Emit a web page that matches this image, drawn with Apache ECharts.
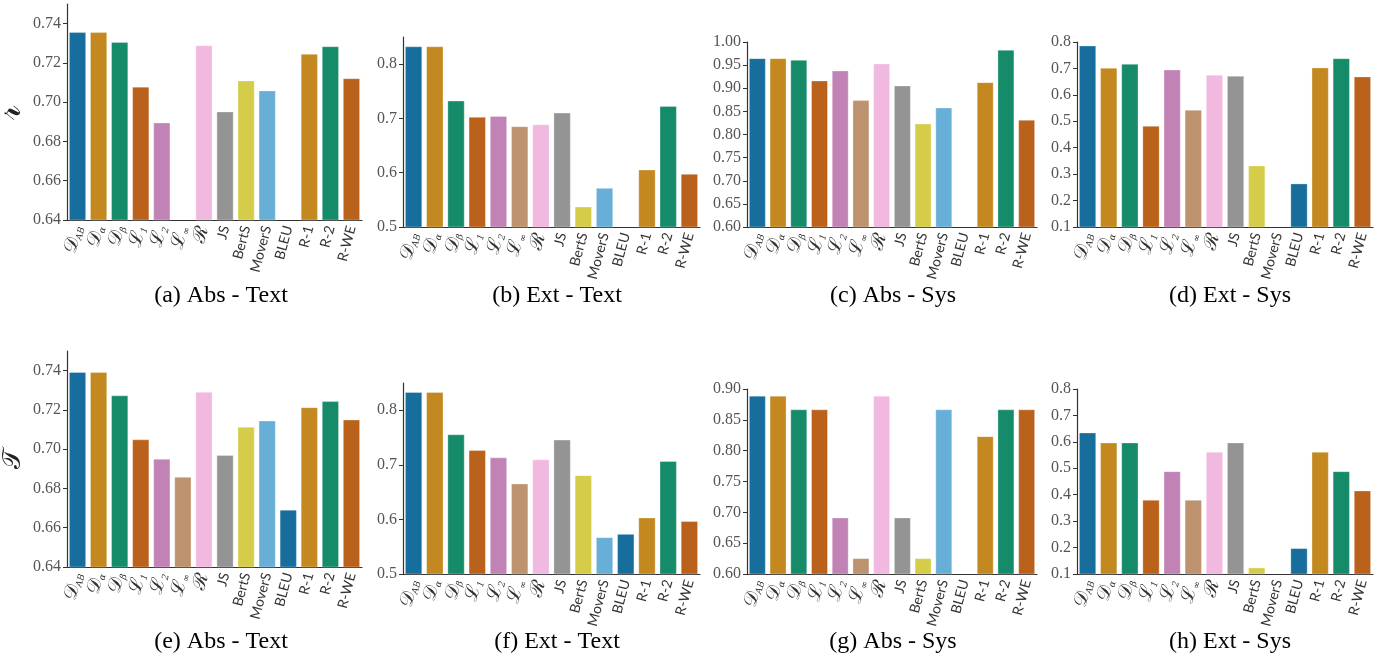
<!DOCTYPE html>
<html>
<head>
<meta charset="utf-8">
<script src="https://cdn.jsdelivr.net/npm/echarts@6/dist/echarts.min.js"></script>
<style>
html,body{margin:0;padding:0;background:#fff;}
#chart{width:1382px;height:658px;}
</style>
</head>
<body>
<div id="chart"></div>
<script>
// Categories (x-axis)
const categories = ['𝒟_AB', '𝒟_α', '𝒟_β', 'ℒ_1', 'ℒ_2', 'ℒ_∞', 'ℛ', 'JS', 'BertS', 'MoverS', 'BLEU', 'R-1', 'R-2', 'R-WE'];

// Series values (null = below the axis range, not visible)
const absTextR = [0.7356, 0.7356, 0.7306, 0.7078, 0.6896, null, 0.7289, 0.6952, 0.7110, 0.7059, null, 0.7245, 0.7284, 0.7121];
const extTextR = [0.8325, 0.8325, 0.7325, 0.7025, 0.7043, 0.6853, 0.6890, 0.7104, 0.5374, 0.5718, null, 0.6055, 0.7227, 0.5975];
const absSysR  = [0.9647, 0.9647, 0.9611, 0.9164, 0.9380, 0.8739, 0.9532, 0.9056, 0.8234, 0.8580, null, 0.9128, 0.9827, 0.8314];
const extSysR  = [0.7861, 0.7016, 0.7168, 0.4822, 0.6953, 0.5427, 0.6752, 0.6714, 0.3322, null, 0.2641, 0.7029, 0.7382, 0.6689];
const absTextT = [0.7392, 0.7392, 0.7273, 0.7049, 0.6950, 0.6858, 0.7291, 0.6969, 0.7113, 0.7145, 0.6691, 0.7213, 0.7244, 0.7150];
const extTextT = [0.8332, 0.8332, 0.7557, 0.7269, 0.7134, 0.6654, 0.7097, 0.7459, 0.6808, 0.5671, 0.5732, 0.6033, 0.7066, 0.5966];
const absSysT  = [0.8889, 0.8889, 0.8667, 0.8667, 0.6914, 0.6254, 0.8889, 0.6914, 0.6254, 0.8667, null, 0.8232, 0.8667, 0.8667];
const extSysT  = [0.6348, 0.5970, 0.5970, 0.3801, 0.4885, 0.3801, 0.5617, 0.5970, 0.1241, null, 0.1972, 0.5617, 0.4885, 0.4154];

// Tick labels
const ticksAbsText = [0.64, 0.66, 0.68, 0.70, 0.72, 0.74];
const ticksExtText = [0.5, 0.6, 0.7, 0.8];
const ticksAbsSysR = [0.60, 0.65, 0.70, 0.75, 0.80, 0.85, 0.90, 0.95, 1.00];
const ticksAbsSysT = [0.60, 0.65, 0.70, 0.75, 0.80, 0.85, 0.90];
const ticksExtSys  = [0.1, 0.2, 0.3, 0.4, 0.5, 0.6, 0.7, 0.8];

// Subplot captions and y-axis names
const captions = ['(a) Abs - Text', '(b) Ext - Text', '(c) Abs - Sys', '(d) Ext - Sys',
                  '(e) Abs - Text', '(f) Ext - Text', '(g) Abs - Sys', '(h) Ext - Sys'];
const yNames = ['𝓇', '', '', '', '𝒯', '', '', ''];

const palette = ['#176d9c', '#c38820', '#168b6a', '#ba611b', '#c183b6', '#bd926e', '#f1b9e0', '#949494', '#d5cd4a', '#68afd7'];

const panels = [
  {data: absTextR, ticks: ticksAbsText, min: 0.64, max: 0.75, dec: 2, nameSize: 36, nameGap: 36, grid: {left: 67, top: 4, width: 295, height: 216}, cap: [221, 296]},
  {data: extTextR, ticks: ticksExtText, min: 0.5, max: 0.85, dec: 1, nameSize: 20, nameGap: 40, grid: {left: 403, top: 37, width: 297, height: 190}, cap: [557, 296]},
  {data: absSysR, ticks: ticksAbsSysR, min: 0.6, max: 1.0, dec: 2, nameSize: 20, nameGap: 40, grid: {left: 747, top: 42, width: 290, height: 185}, cap: [893, 296]},
  {data: extSysR, ticks: ticksExtSys, min: 0.1, max: 0.8, dec: 1, nameSize: 20, nameGap: 40, grid: {left: 1077, top: 42, width: 296, height: 185}, cap: [1230, 296]},
  {data: absTextT, ticks: ticksAbsText, min: 0.64, max: 0.75, dec: 2, nameSize: 26, nameGap: 41, grid: {left: 67, top: 351, width: 295, height: 216}, cap: [221, 642]},
  {data: extTextT, ticks: ticksExtText, min: 0.5, max: 0.85, dec: 1, nameSize: 20, nameGap: 40, grid: {left: 403, top: 383, width: 297, height: 191}, cap: [557, 642]},
  {data: absSysT, ticks: ticksAbsSysT, min: 0.6, max: 0.9, dec: 2, nameSize: 20, nameGap: 40, grid: {left: 747, top: 389, width: 290, height: 185}, cap: [893, 642]},
  {data: extSysT, ticks: ticksExtSys, min: 0.1, max: 0.8, dec: 1, nameSize: 20, nameGap: 40, grid: {left: 1077, top: 389, width: 296, height: 185}, cap: [1230, 642]}
];

const axisColor = '#333';

function catLabel(v) {
  if (v.indexOf('_') >= 0) {
    const p = v.split('_');
    return '{c|' + p[0] + '}{s|' + p[1] + '}';
  }
  if (v === 'ℛ') return '{c|ℛ}';
  return '{t|' + v + '}';
}

const grids = [], xAxes = [], yAxes = [], series = [], graphics = [];
panels.forEach((p, i) => {
  grids.push(Object.assign({containLabel: false, outerBoundsMode: 'none'}, p.grid));
  xAxes.push({
    type: 'category', gridIndex: i, data: categories,
    axisLine: {lineStyle: {color: axisColor, width: 1.2}},
    axisTick: {alignWithLabel: true, length: 4, lineStyle: {color: axisColor}},
    axisLabel: {
      interval: 0, rotate: 75, margin: 6, color: '#333',
      formatter: catLabel,
      rich: {
        c: {fontFamily: 'DejaVu Serif', fontSize: 19, color: '#333', verticalAlign: 'bottom'},
        s: {fontFamily: 'DejaVu Serif', fontStyle: 'italic', fontSize: 9, color: '#333', verticalAlign: 'bottom'},
        t: {fontFamily: 'Lato', fontSize: 14, color: '#333'}
      }
    },
    splitLine: {show: false}
  });
  yAxes.push({
    type: 'value', gridIndex: i, min: p.min, max: p.max,
    name: yNames[i], nameLocation: 'middle', nameGap: p.nameGap, nameRotate: 90,
    nameTextStyle: {fontFamily: 'DejaVu Serif', fontSize: p.nameSize, color: '#222'},
    axisLine: {show: true, lineStyle: {color: axisColor, width: 1.2}},
    axisTick: {show: true, length: 4, lineStyle: {color: axisColor}, customValues: p.ticks},
    axisLabel: {
      customValues: p.ticks, margin: 6, color: '#555',
      fontFamily: 'Liberation Serif', fontSize: 16,
      formatter: v => Number(v).toFixed(p.dec)
    },
    splitLine: {show: false}
  });
  series.push({
    type: 'bar', xAxisIndex: i, yAxisIndex: i, barCategoryGap: '20%',
    data: p.data.map((v, k) => ({value: v, itemStyle: {color: palette[k % palette.length]}})),
    itemStyle: {borderColor: 'rgba(255,255,255,0.5)', borderWidth: 0.6}
  });
  graphics.push({
    type: 'text', x: p.cap[0], y: p.cap[1],
    style: {text: captions[i], fontFamily: 'Liberation Serif', fontSize: 24, fill: '#000', textAlign: 'center', textVerticalAlign: 'middle'}
  });
});

const chart = echarts.init(document.getElementById('chart'), null, {renderer: 'canvas'});
chart.setOption({
  animation: false,
  backgroundColor: '#fff',
  grid: grids, xAxis: xAxes, yAxis: yAxes, series: series, graphic: graphics
});
</script>
</body>
</html>
